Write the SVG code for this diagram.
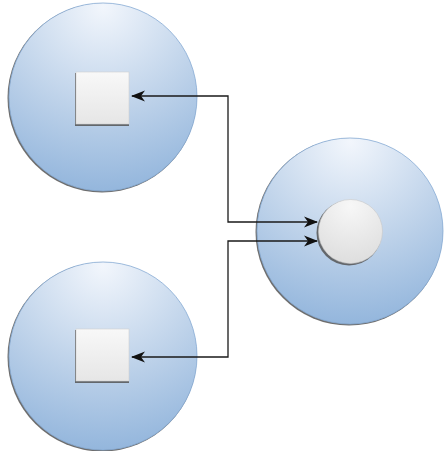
<svg xmlns="http://www.w3.org/2000/svg" width="445" height="451" viewBox="0 0 445 451">
<defs>
<radialGradient id="blue" cx="0.5" cy="0" r="1.05" fx="0.5" fy="0.02">
<stop offset="0" stop-color="#f2f6fc"/>
<stop offset="0.55" stop-color="#bcd1e9"/>
<stop offset="1" stop-color="#8fb3db"/>
</radialGradient>
<linearGradient id="grey" x1="0" y1="0" x2="0" y2="1">
<stop offset="0" stop-color="#f8f8f8"/>
<stop offset="1" stop-color="#e6e6e6"/>
</linearGradient>
<radialGradient id="greyc" cx="0.5" cy="0.1" r="0.9">
<stop offset="0" stop-color="#f7f7f7"/>
<stop offset="1" stop-color="#dedede"/>
</radialGradient>
<marker id="arr" viewBox="0 0 14 12" refX="13" refY="6" markerWidth="14" markerHeight="12" markerUnits="userSpaceOnUse" orient="auto-start-reverse">
<path d="M0,0.5 L14,6 L0,11.5 L4,6 Z" fill="#111"/>
</marker>
</defs>
<style>
.shadow{fill:#555;opacity:0.85}
.outer{fill:url(#blue);stroke:#86abd4;stroke-width:0.8}
.sq{fill:url(#grey);stroke:#d0d0d0;stroke-width:0.6}
.ic{fill:url(#greyc);stroke:#c8c8c8;stroke-width:0.6}
.conn{fill:none;stroke:#1a1a1a;stroke-width:1.3}
</style>
<g id="node-top-left">
<circle class="shadow" cx="102" cy="98" r="94.5"/>
<circle class="outer" cx="103" cy="97" r="94"/>
<rect class="shadow" x="75" y="73" width="54" height="53"/>
<rect class="sq" x="76" y="72" width="53" height="52"/>
</g>
<g id="node-bottom-left">
<circle class="shadow" cx="102" cy="357" r="94.5"/>
<circle class="outer" cx="103" cy="356" r="94"/>
<rect class="shadow" x="75" y="330" width="54" height="53"/>
<rect class="sq" x="76" y="329" width="53" height="52"/>
</g>
<g id="node-right">
<circle class="shadow" cx="349" cy="232" r="93.5"/>
<circle class="outer" cx="350" cy="231" r="93"/>
<circle class="shadow" cx="349" cy="233" r="32.5"/>
<circle class="ic" cx="350.5" cy="231.5" r="32"/>
</g>
<g id="connectors">
<polyline class="conn" points="317,222 228,222 228,96 132,96" marker-start="url(#arr)" marker-end="url(#arr)"/>
<polyline class="conn" points="317,241 228,241 228,357 132,357" marker-start="url(#arr)" marker-end="url(#arr)"/>
</g>
</svg>
